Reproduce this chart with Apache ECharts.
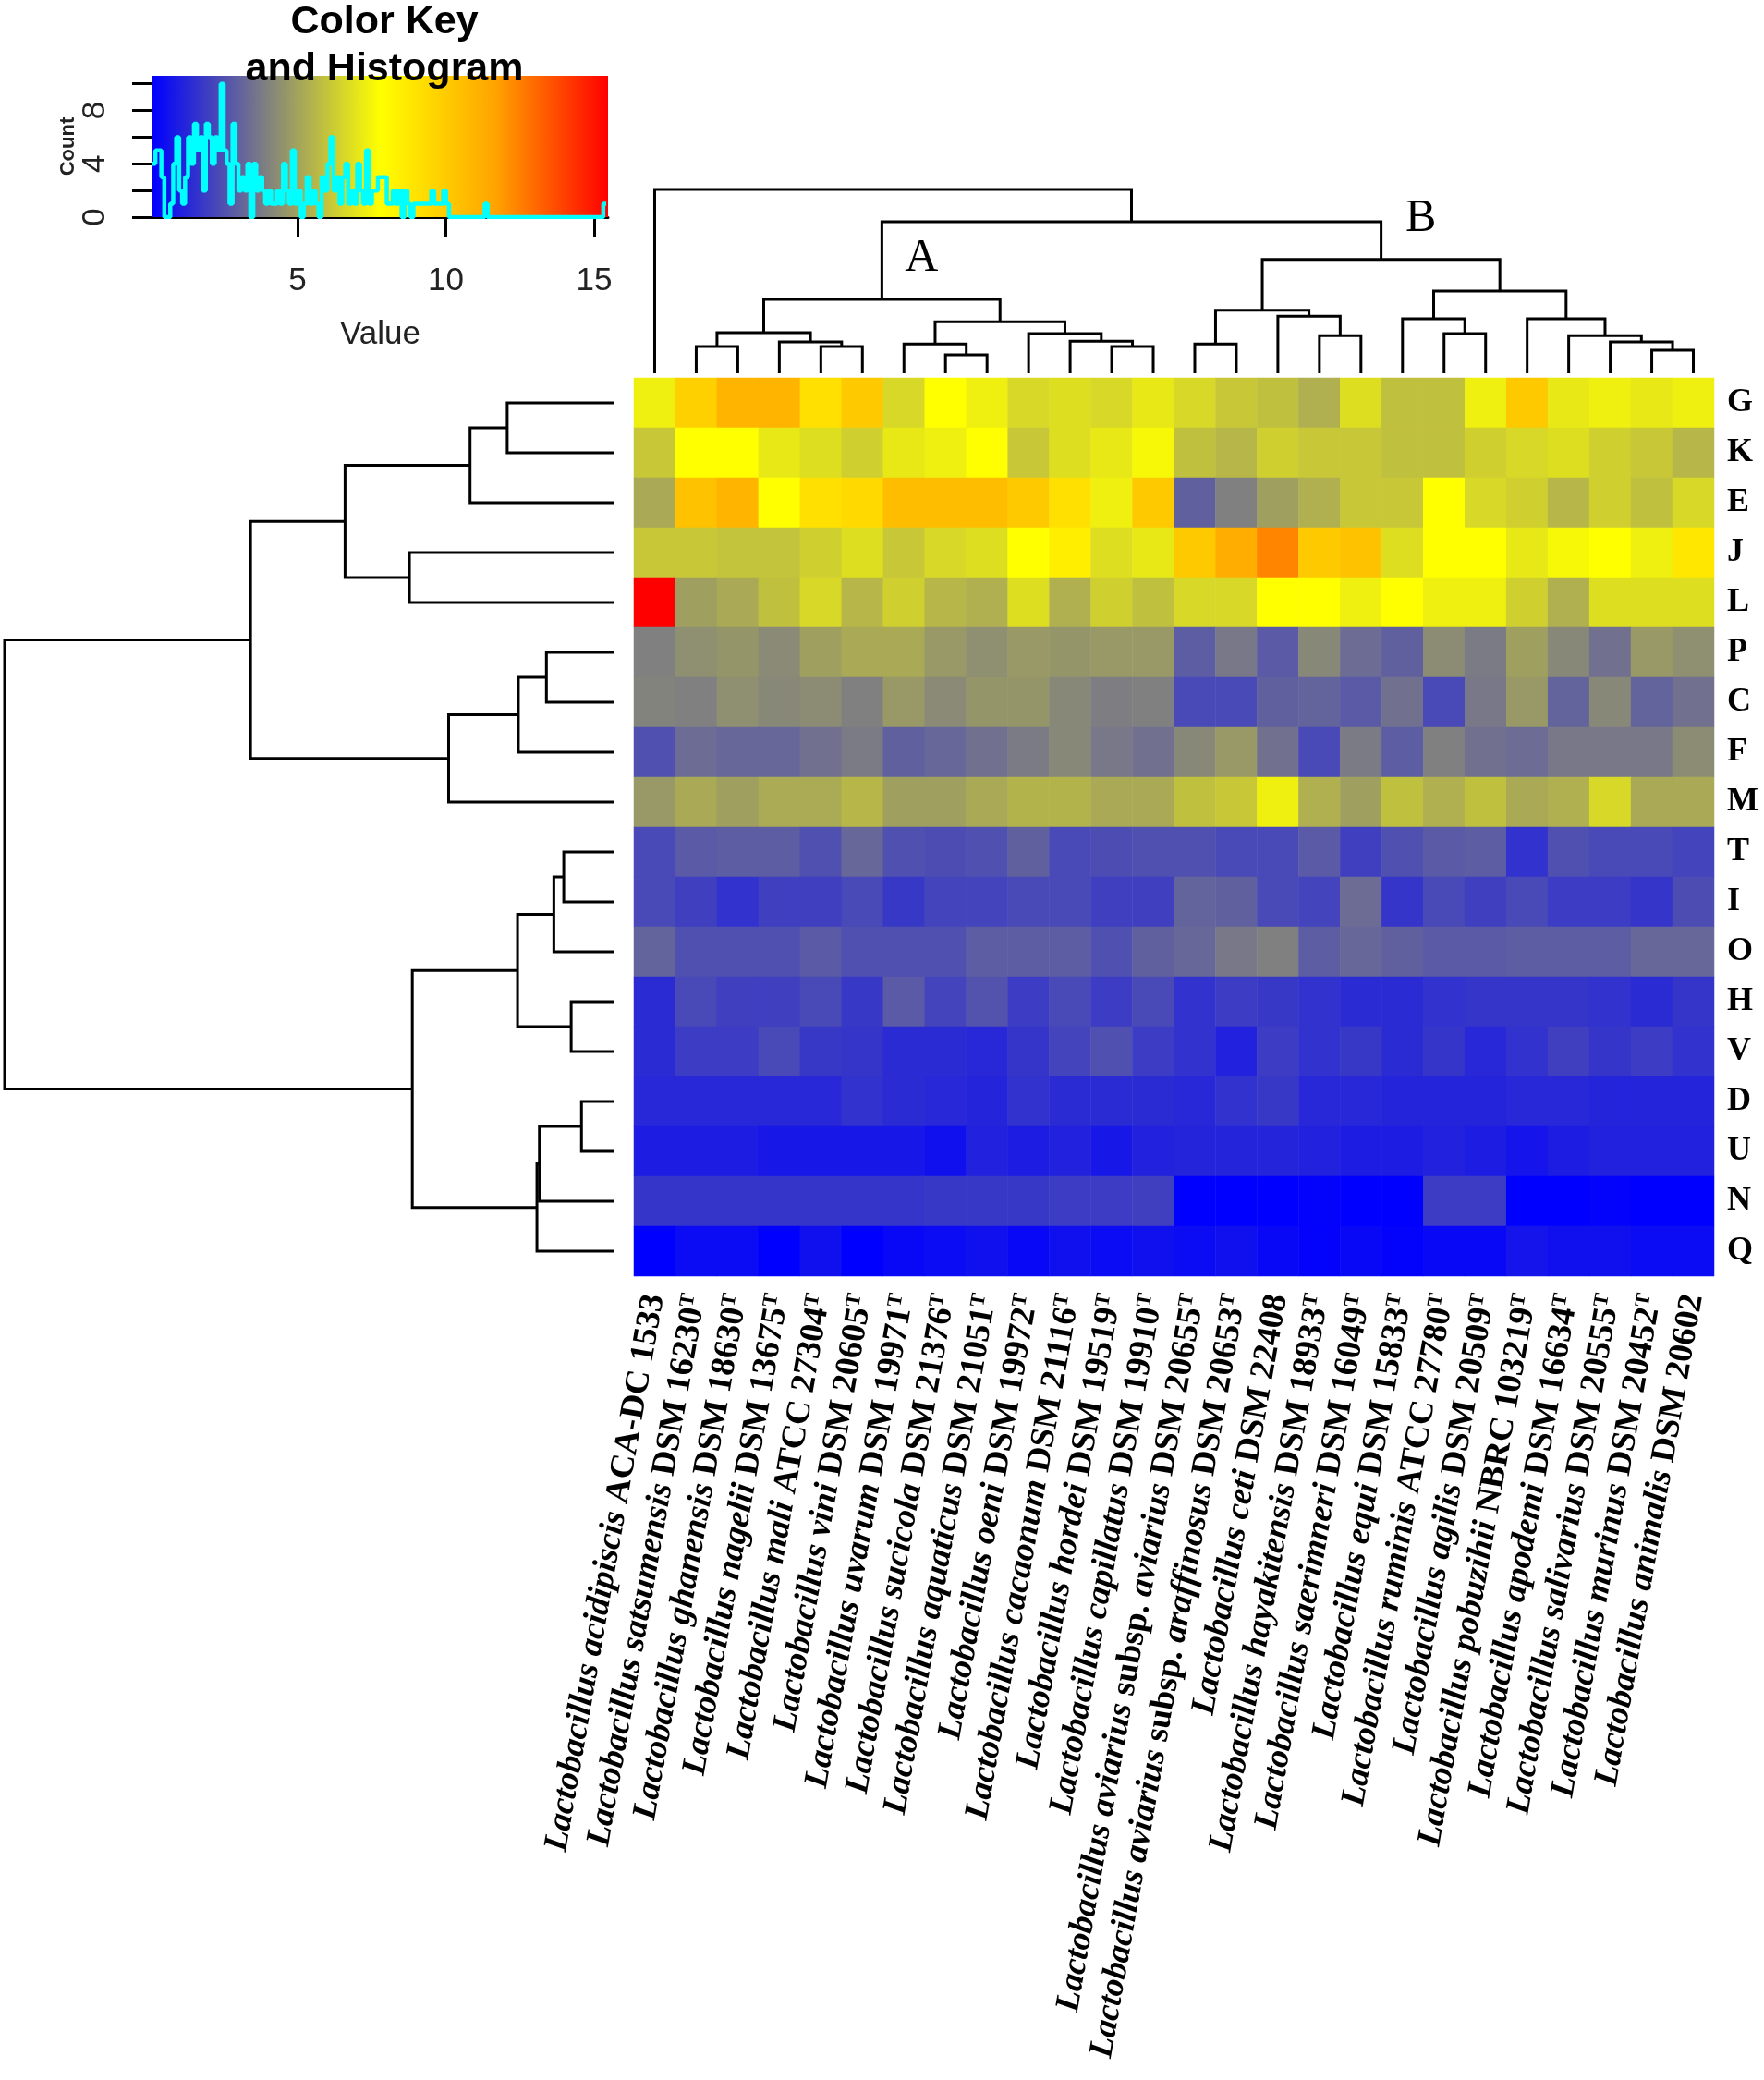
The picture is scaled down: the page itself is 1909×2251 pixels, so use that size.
<!DOCTYPE html>
<html><head><meta charset="utf-8">
<script src="https://cdn.jsdelivr.net/npm/echarts@6/dist/echarts.min.js"></script>
<style>html,body{margin:0;padding:0;background:#fff}#c{width:1909px;height:2251px}</style>
</head><body><div id="c"></div>
<script>
const rowLabels = ['G','K','E','J','L','P','C','F','M','T','I','O','H','V','D','U','N','Q'];
const colLabels = [
 '_Lactobacillus acidipiscis_ ACA-DC 1533',
 '_Lactobacillus satsumensis_ DSM 16230^T',
 '_Lactobacillus ghanensis_ DSM 18630^T',
 '_Lactobacillus nagelii_ DSM 13675^T',
 '_Lactobacillus mali_ ATCC 27304^T',
 '_Lactobacillus vini_ DSM 20605^T',
 '_Lactobacillus uvarum_ DSM 19971^T',
 '_Lactobacillus sucicola_ DSM 21376^T',
 '_Lactobacillus aquaticus_ DSM 21051^T',
 '_Lactobacillus oeni_ DSM 19972^T',
 '_Lactobacillus cacaonum_ DSM 21116^T',
 '_Lactobacillus hordei_ DSM 19519^T',
 '_Lactobacillus capillatus_ DSM 19910^T',
 '_Lactobacillus aviarius_ subsp. _aviarius_ DSM 20655^T',
 '_Lactobacillus aviarius_ subsp. _araffinosus_ DSM 20653^T',
 '_Lactobacillus ceti_ DSM 22408',
 '_Lactobacillus hayakitensis_ DSM 18933^T',
 '_Lactobacillus saerimneri_ DSM 16049^T',
 '_Lactobacillus equi_ DSM 15833^T',
 '_Lactobacillus ruminis_ ATCC 27780^T',
 '_Lactobacillus agilis_ DSM 20509^T',
 '_Lactobacillus pobuzihii_ NBRC 103219^T',
 '_Lactobacillus apodemi_ DSM 16634^T',
 '_Lactobacillus salivarius_ DSM 20555^T',
 '_Lactobacillus murinus_ DSM 20452^T',
 '_Lactobacillus animalis_ DSM 20602'
];
// one row per row label, 26 columns each
const values = [
 [7.3,9.8,11.0,11.0,9.1,10.1,6.6,7.8,7.3,6.6,6.8,6.6,7.1, 6.6,6.1,5.9,5.4,6.8,5.9,5.9,7.3,10.1,7.1,7.3,7.1,7.3],
 [6.1,7.8,7.8,7.1,6.8,6.35,7.1,7.3,7.8,6.1,6.8,7.1,7.55, 5.9,5.6,6.35,6.1,6.1,5.9,5.9,6.35,6.6,6.8,6.35,6.1,5.6],
 [5.2,10.4,11.0,7.8,9.1,9.4,10.6,10.6,10.6,10.1,9.1,7.3,10.1, 3.0,3.95,4.9,5.4,6.1,6.1,7.8,6.6,6.35,5.6,6.35,5.9,6.6],
 [6.1,6.1,6.0,6.0,6.35,6.8,6.1,6.6,6.8,7.8,8.5,6.8,7.1, 10.1,11.3,12.4,10.1,10.4,6.8,7.8,7.8,7.1,7.55,7.8,7.3,8.8],
 [15.47,4.9,5.2,5.9,6.6,5.6,6.35,5.6,5.4,6.8,5.4,6.35,5.9, 6.6,6.6,7.8,7.8,7.3,7.8,7.3,7.3,6.35,5.4,6.8,6.8,6.8],
 [3.95,4.4,4.6,4.25,4.9,5.2,5.2,4.7,4.4,4.7,4.6,4.7,4.7, 2.9,3.7,2.8,4.2,3.35,3.0,4.3,3.8,4.9,4.2,3.5,4.7,4.4],
 [4.05,3.95,4.4,4.2,4.3,3.95,4.7,4.25,4.6,4.6,4.2,3.9,3.95, 2.3,2.3,3.0,3.1,2.8,3.5,2.3,3.7,4.7,3.1,4.2,3.1,3.5],
 [2.5,3.35,3.2,3.2,3.5,3.8,3.0,3.2,3.5,3.8,4.2,3.7,3.5, 4.2,4.7,3.5,2.3,3.8,2.9,3.95,3.5,3.35,3.7,3.7,3.7,4.3],
 [4.7,5.2,4.9,5.25,5.25,5.6,4.9,4.9,5.2,5.5,5.5,5.2,5.2, 5.9,6.1,7.3,5.4,4.9,5.9,5.4,5.9,5.2,5.4,6.6,5.2,5.2],
 [2.3,2.8,2.9,2.9,2.5,3.2,2.5,2.4,2.5,3.0,2.3,2.4,2.5, 2.5,2.3,2.3,2.8,2.0,2.5,2.8,2.9,1.6,2.5,2.3,2.3,2.15],
 [2.3,2.0,1.6,2.0,2.0,2.3,1.8,2.15,2.15,2.3,2.3,2.0,2.0, 3.1,3.0,2.3,2.15,3.35,1.7,2.3,2.0,2.3,1.9,1.9,1.7,2.4],
 [3.1,2.5,2.5,2.5,2.8,2.5,2.5,2.5,2.9,2.9,2.9,2.5,3.0, 3.2,3.7,3.95,2.9,3.2,3.0,2.8,2.8,2.9,2.9,2.9,3.2,3.2],
 [1.4,2.3,2.0,2.0,2.3,1.8,2.8,2.15,2.6,1.9,2.3,1.9,2.3, 1.6,1.9,1.8,1.6,1.4,1.4,1.6,1.7,1.7,1.7,1.6,1.4,1.7],
 [1.4,1.9,1.9,2.3,1.8,1.7,1.4,1.4,1.3,1.7,2.15,2.5,1.9, 1.6,1.1,1.9,1.6,1.8,1.4,1.7,1.3,1.6,2.0,1.7,1.9,1.6],
 [1.3,1.3,1.3,1.3,1.3,1.6,1.4,1.3,1.2,1.6,1.4,1.4,1.4, 1.3,1.6,1.8,1.3,1.3,1.2,1.2,1.2,1.3,1.3,1.2,1.2,1.2],
 [0.95,0.95,0.95,0.8,0.8,0.8,0.8,0.6,1.1,0.95,1.1,0.8,1.1, 1.2,1.2,1.2,1.1,0.95,0.95,1.1,0.95,0.7,0.95,1.1,1.1,1.1],
 [1.7,1.7,1.7,1.7,1.7,1.7,1.7,1.8,1.8,1.8,1.9,1.9,2.0, 0.11,0.11,0.11,0.2,0.11,0.11,1.9,1.9,0.11,0.11,0.2,0.11,0.11],
 [0.11,0.45,0.45,0.11,0.6,0.11,0.35,0.45,0.6,0.35,0.6,0.45,0.6, 0.45,0.6,0.35,0.2,0.35,0.2,0.35,0.35,0.7,0.6,0.6,0.45,0.45]
];
// hclust-style merges: negative = leaf (1-based), positive = earlier merge
const colMerge = [[-2,-3],[-5,-6],[-4,2],[1,3],[-8,-9],[-7,5],[-12,-13],[-11,7],[-10,8],[6,9],[4,10],
 [-14,-15],[-17,-18],[-16,13],[12,14],[-20,-21],[-19,16],[-25,-26],[-24,18],[-23,19],[-22,20],[17,21],[15,22],[11,23],[-1,24]];
const colHeight = [87,87,102,132,60,95,87,104,129,167,240,95,122,185,205,129,177,75,102,122,177,267,370,492,597];
const rowMerge = [[-1,-2],[1,-3],[-4,-5],[2,3],[-6,-7],[5,-8],[6,-9],[4,7],[-10,-11],[9,-12],[-13,-14],[10,11],
 [-15,-16],[13,-17],[14,-18],[12,15],[8,16]];
const rowHeight = [260,350,497,653,165,233,402,882,123,147,105,235,80,182,188,490,1478];
const clusterMarks = [['A',11],['B',23]];
// colour key
const keyMin = 0.11, keyMax = 15.47;
const keyColors = ['#0000FF','#808080','#FFFF00','#FFA500','#FF0000'];
const keyTicks = [5,10,15];
const countTicks = [0,2,4,6,8,10];
const countLabels = [0,4,8];
const histStart = 0.11, histBin = 0.1;
const histCounts = [
 4,5,5,3,0,0,1,4,6,2, 1,3,6,4,7,5,6,2,7,6, 4,6,5,10,5,4,1,7,4,2,
 3,2,4,0,4,2,3,2,1,2, 1,1,2,1,4,2,1,5,1,2, 0,1,3,1,2,1,0,3,2,4,
 6,2,3,1,3,4,1,2,1,4, 2,1,5,1,2,2,3,3,3,1, 1,2,1,2,0,2,1,0,1,1,
 1,1,1,1,2,1,1,1,2,1, 0,0,0,0,0,0,0,0,0,0, 0,0,1,0,0,0,0,0,0,0,
 0,0,0,0,0,0,0,0,0,0, 0,0,0,0,0,0,0,0,0,0, 0,0,0,0,0,0,0,0,0,0, 0,0,1
];

function layoutTree(merge, heights){
  const pos = [], segs = [];
  const p = r => r < 0 ? (-r - 0.5) : pos[r-1];
  const hh = r => r < 0 ? 0 : heights[r-1];
  merge.forEach((m,i)=>{
    const a = p(m[0]), b = p(m[1]);
    pos.push((a+b)/2);
    segs.push([a, hh(m[0]), b, hh(m[1]), heights[i]]);
  });
  return {pos, segs};
}
const colTree = layoutTree(colMerge, colHeight);
const rowTree = layoutTree(rowMerge, rowHeight);

function richLabel(s){
  let sup = false;
  if (s.endsWith('^T')) { sup = true; s = s.slice(0,-2); }
  let out = '';
  s.split('_').forEach((p,i)=>{ if (p) out += '{' + (i%2 ? 'i' : 'n') + '|' + p + '}'; });
  if (sup) out += '{s|T}';
  return out;
}

const heatData = [];
values.forEach((row,r)=>row.forEach((v,c)=>heatData.push([c,r,v])));
const histPts = histCounts.map((n,i)=>[histStart + i*histBin, n]);
histPts.push([histStart + histCounts.length*histBin, histCounts[histCounts.length-1]]);

const LS = 'Liberation Serif', SANS = 'Liberation Sans';
const labFS = 37;
const chart = echarts.init(document.getElementById('c'), null, {renderer:'canvas'});
chart.setOption({
  backgroundColor:'#ffffff',
  animation:false,
  title:{text:'Color Key\nand Histogram', left:411, top:-6, textAlign:'center',
    textStyle:{fontFamily:SANS, fontWeight:'bold', fontSize:43, lineHeight:51, color:'#000'}},
  grid:[
    {left:686, top:409, width:1169, height:972},
    {left:686, top:205, width:1169, height:199},
    {left:5, top:409, width:660, height:972},
    {left:165, top:82, width:493, height:153}
  ],
  xAxis:[
    {gridIndex:0, type:'category', data:colLabels, axisLine:{show:false}, axisTick:{show:false},
     axisLabel:{interval:0, rotate:80, margin:20, fontSize:labFS, fontFamily:LS, color:'#000',
       formatter: v => richLabel(v),
       rich:{
         i:{fontFamily:LS, fontStyle:'italic', fontWeight:'bold', fontSize:labFS, color:'#000'},
         n:{fontFamily:LS, fontWeight:'bold', fontSize:labFS, color:'#000'},
         s:{fontFamily:LS, fontWeight:'bold', fontSize:22, color:'#000', verticalAlign:'top'}
       }}},
    {gridIndex:1, type:'value', min:0, max:colLabels.length, show:false},
    {gridIndex:2, type:'value', min:0, max:rowHeight[rowHeight.length-1], inverse:true, show:false},
    {gridIndex:3, type:'value', min:keyMin, max:keyMax,
     axisLine:{show:true, lineStyle:{color:'#000', width:3}},
     axisTick:{show:true, customValues:keyTicks, length:22, lineStyle:{color:'#000', width:3}},
     axisLabel:{customValues:keyTicks, margin:52, fontFamily:SANS, fontSize:35, color:'#222'},
     splitLine:{show:false},
     name:'Value', nameLocation:'middle', nameGap:110, nameTextStyle:{fontFamily:SANS, fontSize:35, color:'#222'}}
  ],
  yAxis:[
    {gridIndex:0, type:'category', data:rowLabels, inverse:true, position:'right',
     axisLine:{show:false}, axisTick:{show:false},
     axisLabel:{margin:14, fontFamily:LS, fontWeight:'bold', fontSize:36, color:'#000'}},
    {gridIndex:1, type:'value', min:0, max:colHeight[colHeight.length-1], show:false},
    {gridIndex:2, type:'value', min:0, max:rowLabels.length, inverse:true, show:false},
    {gridIndex:3, type:'value', min:0, max:10.6,
     axisLine:{show:false},
     axisTick:{show:true, customValues:countTicks, length:22, lineStyle:{color:'#000', width:3}},
     axisLabel:{customValues:countLabels, rotate:90, margin:44, fontFamily:SANS, fontSize:35, color:'#222'},
     splitLine:{show:false},
     name:'Count', nameLocation:'middle', nameRotate:90, nameGap:80,
     nameTextStyle:{fontFamily:SANS, fontWeight:'bold', fontSize:22, color:'#222'}}
  ],
  visualMap:{type:'continuous', min:keyMin, max:keyMax, seriesIndex:0, show:false, inRange:{color:keyColors}},
  series:[
    {type:'heatmap', xAxisIndex:0, yAxisIndex:0, data:heatData, itemStyle:{borderWidth:0}, emphasis:{disabled:true}, progressive:0},
    {type:'custom', xAxisIndex:1, yAxisIndex:1, data:colTree.segs, silent:true,
     renderItem:(params, api)=>{
       const a = api.coord([api.value(0), api.value(1)]), b = api.coord([api.value(2), api.value(3)]);
       const ha = api.coord([api.value(0), api.value(4)]), hb = api.coord([api.value(2), api.value(4)]);
       return {type:'polyline', shape:{points:[a,ha,hb,b]}, style:{stroke:'#000', lineWidth:3, fill:null}};
     }},
    {type:'custom', xAxisIndex:1, yAxisIndex:1, silent:true,
     data: clusterMarks.map(m => [colTree.pos[m[1]-1], colHeight[m[1]-1], m[0]]),
     renderItem:(params, api)=>{
       const p = api.coord([api.value(0), api.value(1)]);
       return {type:'text', x:p[0]+43, y:p[1]-44,
         style:{text:api.value(2), fontFamily:LS, fontSize:50, fill:'#000', align:'center', verticalAlign:'middle'}};
     }},
    {type:'custom', xAxisIndex:2, yAxisIndex:2, data:rowTree.segs, silent:true,
     renderItem:(params, api)=>{
       const a = api.coord([api.value(1), api.value(0)]), b = api.coord([api.value(3), api.value(2)]);
       const ha = api.coord([api.value(4), api.value(0)]), hb = api.coord([api.value(4), api.value(2)]);
       return {type:'polyline', shape:{points:[a,ha,hb,b]}, style:{stroke:'#000', lineWidth:3, fill:null}};
     }},
    {type:'custom', xAxisIndex:3, yAxisIndex:3, silent:true, z:1,
     data:[[keyMin, 0, keyMax, 10.6]],
     renderItem:(params, api)=>{
       const p0 = api.coord([api.value(0), api.value(3)]), p1 = api.coord([api.value(2), api.value(1)]);
       const stops = keyColors.map((c,i)=>({offset:i/(keyColors.length-1), color:c}));
       return {type:'rect', shape:{x:p0[0], y:p0[1], width:p1[0]-p0[0], height:p1[1]-p0[1]},
         style:{fill:new echarts.graphic.LinearGradient(0,0,1,0,stops)}};
     }},
    {type:'line', xAxisIndex:3, yAxisIndex:3, data:histPts, step:'end', symbol:'none', z:5,
     lineStyle:{color:'#00FFFF', width:4.5}, silent:true}
  ]
});
</script></body></html>
